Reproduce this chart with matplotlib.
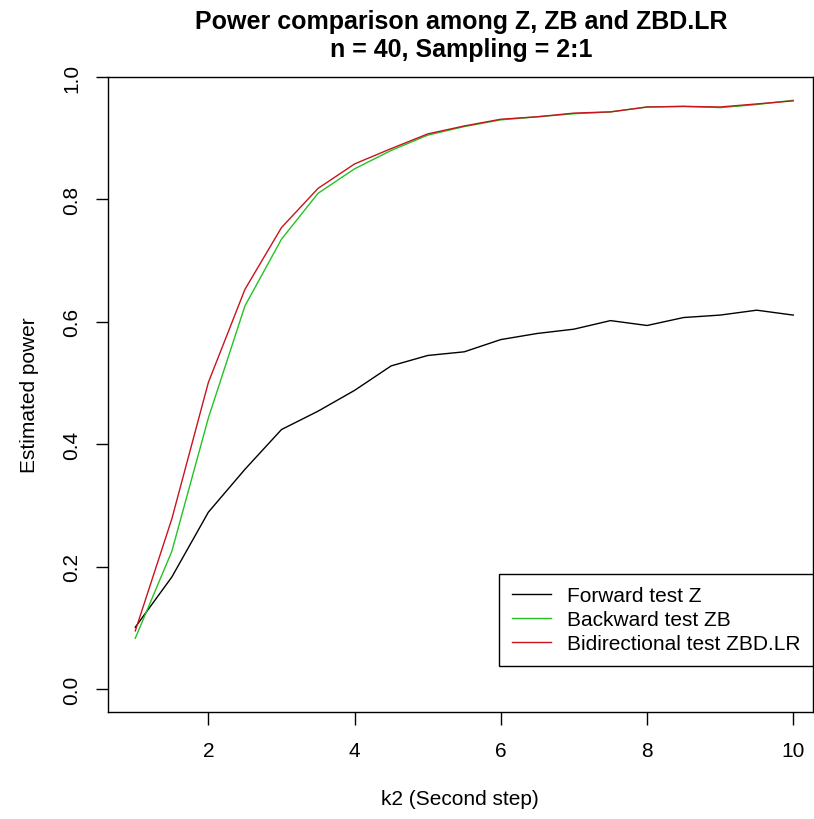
import matplotlib
matplotlib.use("Agg")
import matplotlib.pyplot as plt

plt.rcParams['font.family'] = ['Liberation Sans', 'DejaVu Sans']

k2 = [1.0, 1.5, 2.0, 2.5, 3.0, 3.5, 4.0, 4.5, 5.0, 5.5, 6.0, 6.5, 7.0, 7.5, 8.0, 8.5, 9.0, 9.5, 10.0]
power_z = [0.101, 0.183, 0.289, 0.359, 0.424, 0.454, 0.488, 0.528, 0.545, 0.551, 0.571, 0.581, 0.588, 0.602, 0.594, 0.607, 0.611, 0.619, 0.611]
power_zb = [0.083, 0.225, 0.443, 0.626, 0.735, 0.810, 0.850, 0.880, 0.905, 0.919, 0.930, 0.935, 0.940, 0.943, 0.951, 0.952, 0.950, 0.955, 0.962]
power_zbd = [0.095, 0.278, 0.501, 0.653, 0.754, 0.818, 0.858, 0.883, 0.907, 0.920, 0.931, 0.935, 0.941, 0.943, 0.951, 0.952, 0.951, 0.956, 0.961]

labels = ["Forward test Z", "Backward test ZB", "Bidirectional test ZBD.LR"]
colors = ["black", "#22c322", "#c8141e"]
title_text = "Power comparison among Z, ZB and ZBD.LR\nn = 40, Sampling = 2:1"
xlabel_text = "k2 (Second step)"
ylabel_text = "Estimated power"
xticks = [2, 4, 6, 8, 10]
yticks = [0.0, 0.2, 0.4, 0.6, 0.8, 1.0]

W, H = 814, 820
fig = plt.figure(figsize=(W / 100, H / 100), dpi=100)
ax = fig.add_axes([108 / W, 1 - 713 / H, (813 - 108) / W, (713 - 78) / H])

for ys, c, lab in zip([power_z, power_zb, power_zbd], colors, labels):
    ax.plot(k2, ys, color=c, lw=1.0, label=lab)

ax.set_xlim(0.627, 10.27)
ax.set_ylim(-0.0375, 1.0)
ax.set_xticks(xticks)
ax.set_xticklabels([str(t) for t in xticks], fontsize=15)
ax.set_yticks(yticks)
ax.set_yticklabels(["%.1f" % t for t in yticks], fontsize=15, rotation=90, va='center')
ax.tick_params(direction='out', length=9, width=1.0, pad=10)
ax.tick_params(axis='x', pad=12)
for s in ax.spines.values():
    s.set_linewidth(1.0)

fig.text(461 / W, 1 - 36 / H, title_text, ha='center', va='center', fontsize=18,
         fontweight='bold', linespacing=1.2)
fig.text(460 / W, 1 - 800 / H, xlabel_text, ha='center', va='center', fontsize=15)
fig.text(30 / W, 1 - 395 / H, ylabel_text, ha='center', va='center', fontsize=15, rotation=90)

leg = ax.legend(loc='lower right', bbox_to_anchor=(813 / W, 1 - 667 / H),
                bbox_transform=fig.transFigure, borderaxespad=0, fontsize=15,
                frameon=True, fancybox=False, edgecolor='black', framealpha=1,
                handlelength=1.9, handletextpad=0.75, labelspacing=0.25, borderpad=0.6)
leg.get_frame().set_linewidth(1.0)

fig.savefig("out.png", dpi=100)
